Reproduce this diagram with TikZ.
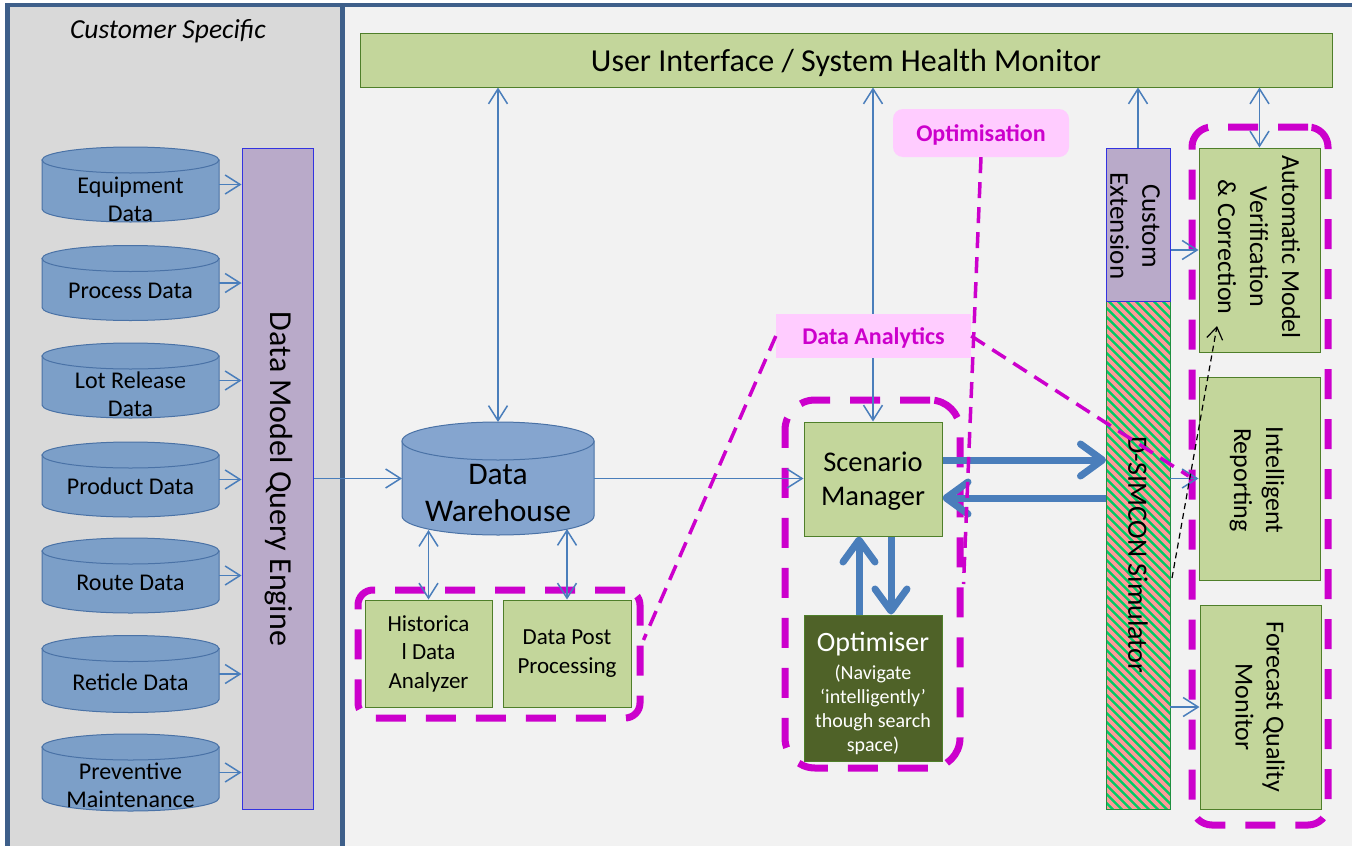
\documentclass[tikz,border=0pt]{standalone}
\usepackage{fontspec}
\setmainfont{Carlito}
\usetikzlibrary{arrows.meta}

\definecolor{frameblue}{HTML}{3E5F8A}
\definecolor{leftgray}{HTML}{D9D9D9}
\definecolor{rightgray}{HTML}{F2F2F2}
\definecolor{cylfill}{HTML}{7C9FC8}
\definecolor{cylline}{HTML}{4A72A6}
\definecolor{dwfill}{HTML}{85A5CF}
\definecolor{boxgreen}{HTML}{C3D69B}
\definecolor{boxline}{HTML}{4F7F2A}
\definecolor{lav}{HTML}{B9AAC9}
\definecolor{lavline}{HTML}{3333E0}
\definecolor{olive}{HTML}{4F6228}
\definecolor{arrblue}{HTML}{4A7EBB}
\definecolor{mag}{HTML}{CC00CC}
\definecolor{pinkfill}{HTML}{FFCCFF}
\definecolor{simgreen}{HTML}{00CC66}
\definecolor{simpink}{HTML}{FF9999}
\definecolor{simline}{HTML}{1F8F3F}

\newcommand{\fsz}[2]{\fontsize{#1}{#2}\selectfont}
\newcommand{\smallopt}{\fsz{20}{24}}
\newcommand{\cylshape}[6]{%
  \filldraw[fill=#6, draw=cylline, line width=1pt] (#1-#4, #2+#5) -- (#1-#4, #3-#5)
    arc[start angle=180, end angle=360, x radius=#4pt, y radius=#5pt] -- (#1+#4, #2+#5) -- cycle;
  \filldraw[fill=#6, draw=cylline, line width=1pt] (#1, #2+#5) ellipse[x radius=#4pt, y radius=#5pt];
}

\tikzset{
  gbox/.style={draw=boxline, fill=boxgreen, line width=1pt, inner sep=0pt, align=center},
  lbox/.style={draw=lavline, fill=lav, line width=1pt, inner sep=0pt},
  hold/.style={inner sep=0pt, outer sep=0pt},
  cyltext/.style={align=center, font=\fsz{24}{28}},
  rottext/.style={rotate=-90, align=center, font=\fsz{27}{32}},
  arr/.style={draw=arrblue, line width=1.5pt, -{Straight Barb[length=15pt,width=19pt]}},
  darr/.style={draw=arrblue, line width=1.5pt, {Straight Barb[length=15pt,width=19pt]}-{Straight Barb[length=15pt,width=19pt]}},
  bigarr/.style={draw=arrblue, line width=7pt, -{Straight Barb[round,length=22pt,width=32pt]}},
  magbox/.style={draw=mag, line width=7pt, dash pattern=on 30pt off 20pt, inner sep=0pt},
  magline/.style={draw=mag, line width=3.5pt, dash pattern=on 16pt off 9pt},
  tag/.style={fill=pinkfill, text=mag, font=\bfseries\fsz{24}{28}, inner sep=0pt},
  blkarr/.style={draw=black, line width=1.2pt, dash pattern=on 6pt off 4pt, -{Straight Barb[length=12pt,width=16pt]}},
}

\begin{document}
\begin{tikzpicture}[x=1pt,y=-1pt]
\useasboundingbox (0,0) rectangle (1352,846);
% panels
\fill[white] (0,0) rectangle (1352,846);
\fill[leftgray] (7.5,5) rectangle (342.5,846);
\fill[rightgray] (342.5,5) rectangle (1352,846);
\draw[frameblue, line width=4.5pt] (7.5,846) -- (7.5,5) -- (1352,5);
\draw[frameblue, line width=5pt] (342.5,5) -- (342.5,846);
\node[font=\itshape\fsz{27.5}{30}] (cust) at (168,31) {Customer Specific};

% group boxes
\node[magbox, rounded corners=15pt, minimum width=282pt, minimum height=128pt] (histgroup) at (499,654) {};
\node[magbox, rounded corners=30pt, minimum width=175pt, minimum height=368pt] (optgroup) at (872.5,584) {};
\node[magbox, rounded corners=20pt, minimum width=136pt, minimum height=698pt] (rightgroup) at (1260,476) {};

% UI bar
\node[gbox, minimum width=972pt, minimum height=54pt] (ui) at (846,60) {};
\node[font=\fsz{32}{36}] (uit) at (846,63) {User Interface / System Health Monitor};

% cylinders left
\cylshape{130.5}{147}{222}{88.5}{13}{cylfill}
\cylshape{130.5}{245.5}{320.5}{88.5}{13}{cylfill}
\cylshape{130.5}{343}{418}{88.5}{13}{cylfill}
\cylshape{130.5}{442}{517}{88.5}{13}{cylfill}
\cylshape{130.5}{538}{613}{88.5}{13}{cylfill}
\cylshape{130.5}{635.5}{712.5}{88.5}{13}{cylfill}
\cylshape{130.5}{734}{811}{88.5}{13}{cylfill}
\node[hold, minimum width=177pt, minimum height=75pt] (eq) at (130.5,184.5) {};
\node[hold, minimum width=177pt, minimum height=75pt] (pr) at (130.5,283) {};
\node[hold, minimum width=177pt, minimum height=75pt] (lot) at (130.5,380.5) {};
\node[hold, minimum width=177pt, minimum height=75pt] (prod) at (130.5,479.5) {};
\node[hold, minimum width=177pt, minimum height=75pt] (rt) at (130.5,575.5) {};
\node[hold, minimum width=177pt, minimum height=77pt] (ret) at (130.5,674) {};
\node[hold, minimum width=177pt, minimum height=77pt] (pm) at (130.5,772.5) {};
\node[cyltext] (eqt) at (130.5,199.5) {Equipment\\Data};
\node[cyltext] (prt) at (130.5,291) {Process Data};
\node[cyltext] (lott) at (130.5,394.5) {Lot Release\\Data};
\node[cyltext] (prodt) at (130.5,486) {Product Data};
\node[cyltext] (rtt) at (130.5,583) {Route Data};
\node[cyltext] (rett) at (130.5,682) {Reticle Data};
\node[cyltext] (pmt) at (130.5,785.5) {Preventive\\Maintenance};

% query engine
\node[lbox, minimum width=71pt, minimum height=661pt] (qe) at (277.5,478.5) {};
\node[rotate=-90, font=\fsz{32}{36}] (qet) at (279,479) {Data Model Query Engine};

% data warehouse
\cylshape{498}{422}{535}{96}{19}{dwfill}
\node[hold, minimum width=192pt, minimum height=113pt] (dw) at (498,478.5) {};
\node[align=center, font=\fsz{31.5}{37}] (dwt) at (498,493) {Data\\Warehouse};

% analysis boxes
\node[gbox, minimum width=127pt, minimum height=107pt, font=\fsz{23}{28.5}] (hist) at (428.5,653.5) {Historica\\l Data\\Analyzer};
\node[gbox, minimum width=128pt, minimum height=107pt, font=\fsz{23}{28.5}] (dpp) at (567,653.5) {Data Post\\Processing};

% scenario manager and optimiser
\node[gbox, minimum width=138pt, minimum height=114pt] (sm) at (873,479) {};
\node[align=center, font=\fsz{28.5}{34}] (smt) at (873,481) {Scenario\\Manager};
\node[draw=boxline, fill=olive, line width=1pt, inner sep=0pt, minimum width=138pt, minimum height=146pt] (opt) at (873,688) {};
\node[align=center, text=white, font=\fsz{28}{24}, inner sep=0pt] (optt) at (873,693)
  {Optimiser\\[4pt]\smallopt(Navigate\\\smallopt‘intelligently’\\\smallopt though search\\\smallopt space)};

% simulator
\begin{scope}
  \clip (1106,301) rectangle (1170,809);
  \fill[simgreen] (1106,301) rectangle (1170,809);
  \foreach \c in {290,299,...,880} \draw[simpink, line width=3.6pt] ({\c+290},290) -- ({\c+830},830);
\end{scope}
\node[draw=simline, line width=1pt, hold, minimum width=64pt, minimum height=508pt] (sim) at (1138,555) {};
\node[rottext, font=\fsz{28}{32}] (simt) at (1138,555) {D-SIMCON Simulator};

\node[lbox, minimum width=64pt, minimum height=153pt] (ce) at (1138,224.5) {};
\node[rottext] (cet) at (1135,226) {Custom\\Extension};

% right column
\node[gbox, minimum width=121pt, minimum height=204pt] (am) at (1259.5,250) {};
\node[rottext, font=\fsz{26}{32}] (amt) at (1259,247) {Automatic Model\\Verification\\\& Correction};
\node[gbox, minimum width=121pt, minimum height=203pt] (ir) at (1259.5,478.5) {};
\node[rottext, font=\fsz{26}{32}] (irt) at (1257,480) {Intelligent\\Reporting};
\node[gbox, minimum width=121pt, minimum height=204pt] (fq) at (1260.5,707) {};
\node[rottext, font=\fsz{26}{31}] (fqt) at (1260,707) {Forecast Quality\\Monitor};

% thin arrows
\foreach \n in {eq,pr,lot,prod,rt,ret,pm} \draw[arr] (\n.east) -- (\n.east -| qe.west);
\draw[arr] (qe.east) -- (qe.east -| dw.west);
\draw[darr] (dw.north) -- (dw.north |- ui.south);
\draw[arr] (dw.east) -- (dw.east -| sm.west);
\draw[darr] ([yshift=5pt]hist.north |- dw.south) -- (hist.north);
\draw[darr] ([yshift=6pt]dpp.north |- dw.south) -- (dpp.north);
\draw[darr] (sm.north |- ui.south) -- (sm.north);
\draw[arr] (ce.north) -- (ce.north |- ui.south);
\draw[darr] (am.north |- ui.south) -- (am.north);
\draw[arr] (am.west -| ce.east) -- (am.west);
\draw[arr] (ir.west -| sim.east) -- (ir.west);
\draw[arr] (fq.west -| sim.east) -- (fq.west);

% thick arrows
\draw[bigarr] ([yshift=19pt]sm.east) -- ([yshift=19pt]sm.east -| sim.west);
\draw[bigarr] ([yshift=-19pt]sm.east -| sim.west) -- ([yshift=-19pt]sm.east);
\draw[bigarr] ([xshift=-14pt]opt.north) -- ([xshift=-14pt]sm.south);
\draw[bigarr] ([xshift=18pt]sm.south) -- ([xshift=18pt]opt.north);

% black dashed arrow
\coordinate (dstart) at (1172,578);
\coordinate (dend) at (1217,326);
\draw[blkarr] (dstart) -- (dend);

% tags and magenta lines
\node[tag, rounded corners=10pt, minimum width=176pt, minimum height=48pt] (opttag) at (981,133) {};
\node[tag] (opttagt) at (981,135) {Optimisation};
\node[tag, minimum width=195pt, minimum height=44pt] (datag) at (873.5,336) {};
\node[tag] (datagt) at (873.5,338) {Data Analytics};
\draw[magline] (datag.west) -- ([yshift=14pt]histgroup.east);
\draw[magline] (datag.east) -- (rightgroup.west);
\draw[magline] (opttag.south) -- (optgroup.east);
\end{tikzpicture}
\end{document}
